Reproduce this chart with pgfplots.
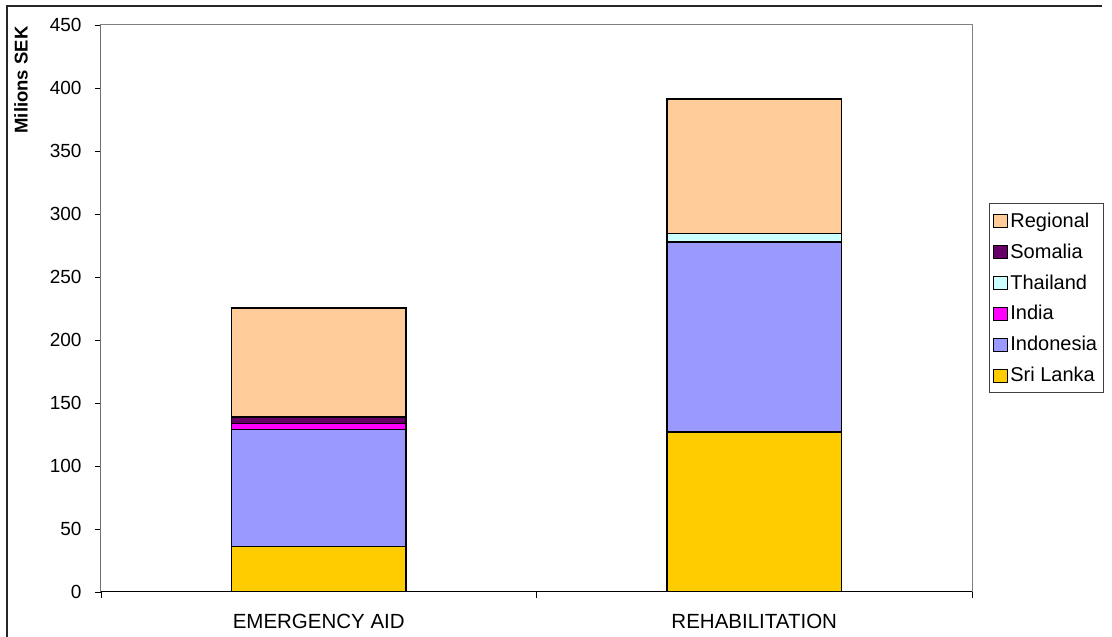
\documentclass[border=0pt]{standalone}
\usepackage{pgfplots}
\pgfplotsset{compat=1.18}
\usepackage{fontspec}
\setmainfont{Liberation Sans}
\definecolor{cReg}{HTML}{FFCC99}
\definecolor{cSom}{HTML}{660066}
\definecolor{cTha}{HTML}{CCFFFF}
\definecolor{cInd}{HTML}{FF00FF}
\definecolor{cIdn}{HTML}{9999FF}
\definecolor{cSL}{HTML}{FFCC00}
\begin{document}
\begin{tikzpicture}
\useasboundingbox (0pt,0pt) rectangle (1112pt,637pt);
\draw[line width=1.5pt, black!85] (7pt,0pt) -- (7pt,631pt) -- (1102pt,631pt);
\begin{axis}[
  at={(101pt,45pt)}, anchor=south west,
  scale only axis, width=871pt, height=567pt,
  ymin=0, ymax=450, ytick={0,50,...,450},
  xmin=-0.5, xmax=1.5,
  xtick={-0.5,0.5,1.5}, xticklabels={},
  extra x ticks={0,1},
  extra x tick labels={EMERGENCY AID,REHABILITATION},
  extra x tick style={major tick length=0pt},
  xtick pos=left, ytick pos=left,
  tick align=outside, major tick length=6pt,
  tick style={black, line width=0.8pt},
  axis line style={draw=black!50, line width=1pt},
  tick label style={font=\fontsize{19}{21}\selectfont},
  /pgf/number format/assume math mode=true,
  y tick label style={xshift=-10pt},
  x tick label style={font=\fontsize{20.5}{22}\selectfont, yshift=-19pt},
  ylabel={Milions SEK},
  ylabel style={font=\bfseries\fontsize{18.5}{20}\selectfont,
    at={(axis description cs:-0.0918,1.0035)}, anchor=east},
  ybar stacked, bar width=0.4,
  reverse legend,
  legend style={at={(1.0195,0.351)}, anchor=south west,
    draw=black!75, line width=1pt,
    font=\fontsize{20}{22}\selectfont, row sep=11pt,
    inner xsep=4pt, inner ysep=7pt},
  legend cell align=left,
  legend image code/.code={\draw[#1, line width=0.9pt] (0pt,-6.5pt) rectangle (14pt,6.5pt);},
]
\addplot[fill=cSL, draw=black, line width=1.4pt] coordinates {(0,36) (1,127)};
\addlegendentry{Sri Lanka}
\addplot[fill=cIdn, draw=black, line width=1.4pt] coordinates {(0,92.8) (1,150.8)};
\addlegendentry{Indonesia}
\addplot[fill=cInd, draw=black, line width=1.4pt] coordinates {(0,4.8) (1,0)};
\addlegendentry{India}
\addplot[fill=cTha, draw=black, line width=1.4pt] coordinates {(0,0) (1,6.9)};
\addlegendentry{Thailand}
\addplot[fill=cSom, draw=black, line width=1.4pt] coordinates {(0,5.3) (1,0)};
\addlegendentry{Somalia}
\addplot[fill=cReg, draw=black, line width=1.4pt] coordinates {(0,86.5) (1,106.6)};
\addlegendentry{Regional}
\draw[black, line width=1pt] (rel axis cs:0,1) -- (rel axis cs:0,0) -- (rel axis cs:1,0);
\end{axis}
\end{tikzpicture}
\end{document}
